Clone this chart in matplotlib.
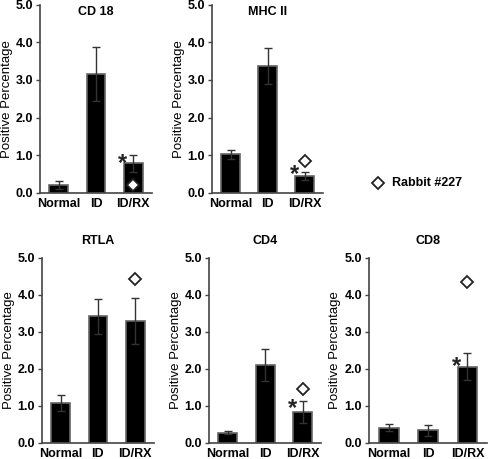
import numpy as np
import matplotlib
matplotlib.use('Agg')
import matplotlib.pyplot as plt
from matplotlib.transforms import ScaledTranslation

plt.rcParams['font.family'] = ['Liberation Sans', 'DejaVu Sans']

groups = ['Normal', 'ID', 'ID/RX']

# panel data: title, means, errors, rabbit #227 value (on ID/RX), asterisk y
titles = ['CD 18', 'MHC II', 'RTLA', 'CD4', 'CD8']
means = [[0.20, 3.15, 0.78],
         [1.02, 3.37, 0.44],
         [1.08, 3.42, 3.30],
         [0.28, 2.10, 0.83],
         [0.41, 0.34, 2.06]]
errs = [[0.10, 0.72, 0.22],
        [0.12, 0.47, 0.10],
        [0.22, 0.47, 0.62],
        [0.03, 0.43, 0.30],
        [0.10, 0.15, 0.37]]
rabbit227 = [0.20, 0.85, 4.42, 1.46, 4.35]
star_y = [0.93, 0.62, None, 1.08, 2.22]

# axes rectangles in figure fractions
rects = [[0.081, 0.580, 0.228, 0.410],
         [0.431, 0.580, 0.226, 0.410],
         [0.085, 0.035, 0.228, 0.403],
         [0.425, 0.035, 0.228, 0.403],
         [0.750, 0.035, 0.240, 0.403]]

fig = plt.figure(figsize=(4.92, 4.59), dpi=100)

for i in range(5):
    ax = fig.add_axes(rects[i])
    x = np.arange(3)
    ax.bar(x, means[i], width=0.5, color='black', edgecolor='#666666', linewidth=1.2, zorder=2)
    ax.errorbar(x, means[i], yerr=errs[i], fmt='none', ecolor='#333333',
                elinewidth=1.0, capsize=3, capthick=1.0, zorder=3)
    ax.plot([2], [rabbit227[i]], marker='D', markersize=6.5, markerfacecolor='white',
            markeredgecolor='#222222', markeredgewidth=1.3, linestyle='none', zorder=4)
    if star_y[i] is not None:
        ax.text(1.72, star_y[i], '*', ha='center', va='center', fontsize=17,
                fontweight='bold', color='#222222', zorder=4,
                transform=ax.transData + ScaledTranslation(0, -4 / 72, fig.dpi_scale_trans))
    ax.set_xlim(-0.5, 2.5)
    ax.set_ylim(0, 5)
    ax.set_yticks([0, 1, 2, 3, 4, 5])
    ax.set_yticklabels(['0.0', '1.0', '2.0', '3.0', '4.0', '5.0'], fontsize=9, fontweight='bold')
    ax.set_xticks(x)
    ax.set_xticklabels(groups, fontsize=9, fontweight='bold')
    ax.tick_params(axis='x', length=0, pad=4)
    ax.tick_params(axis='y', length=3, width=1, color='#444444', pad=2)
    for s in ['top', 'right']:
        ax.spines[s].set_visible(False)
    for s in ['left', 'bottom']:
        ax.spines[s].set_color('#444444')
        ax.spines[s].set_linewidth(1.2)
    ax.set_ylabel('Positive Percentage', fontsize=9.5)
    ax.yaxis.set_label_coords(-0.24, 0.5)
    if i < 2:
        ax.text(0.5, 0.995, titles[i], transform=ax.transAxes, ha='center', va='top',
                fontsize=9, fontweight='bold')
    else:
        ax.set_title(titles[i], fontsize=9, fontweight='bold', pad=10)

# legend for rabbit #227
fig.lines.append(plt.Line2D([378 / 492], [1 - 183 / 459], transform=fig.transFigure,
                            marker='D', markersize=6.5, markerfacecolor='white',
                            markeredgecolor='#222222', markeredgewidth=1.3, linestyle='none'))
fig.text(392 / 492, 1 - 183 / 459, 'Rabbit #227', fontsize=9, fontweight='bold',
         ha='left', va='center')

fig.savefig('out.png', dpi=100)
